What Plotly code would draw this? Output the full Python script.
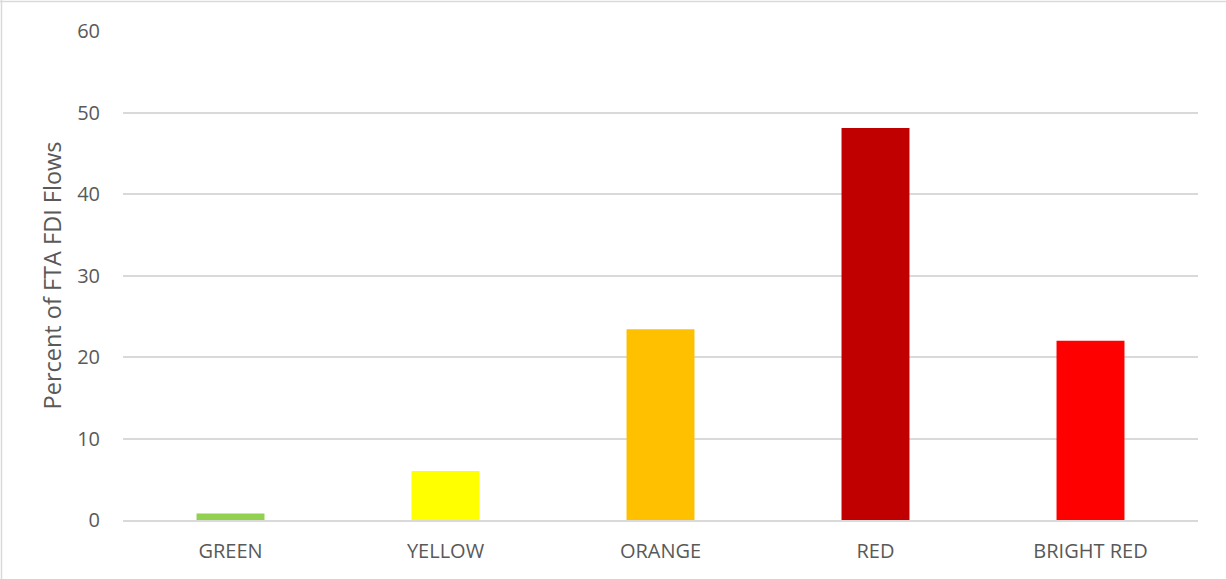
import plotly.graph_objects as go

categories = ["GREEN", "YELLOW", "ORANGE", "RED", "BRIGHT RED"]
percent_fdi = [0.8, 6.0, 23.4, 48.1, 22.0]
bar_colors = ["#92d050", "#ffff00", "#ffc000", "#c00000", "#ff0000"]
y_ticks = [0, 10, 20, 30, 40, 50, 60]

W, H = 1226, 579
L, R, T, B = 123, 28, 31, 59
pw, ph = W - L - R, H - T - B

fig = go.Figure(
    go.Bar(
        x=categories,
        y=percent_fdi,
        marker=dict(color=bar_colors, line=dict(width=0)),
        width=0.316,
    )
)

# chart frame (left and top edges)
fx = lambda px: (px - L) / pw
fy = lambda py: (H - B - py) / ph
fig.add_shape(type="line", xref="paper", yref="paper",
              x0=fx(1.5), x1=fx(1.5), y0=fy(0), y1=fy(H),
              line=dict(color="#d9d9d9", width=1.5))
fig.add_shape(type="line", xref="paper", yref="paper",
              x0=fx(0), x1=fx(W), y0=fy(1.5), y1=fy(1.5),
              line=dict(color="#d9d9d9", width=1.5))

fig.update_layout(
    width=W, height=H,
    margin=dict(l=L, r=R, t=T, b=B),
    paper_bgcolor="white", plot_bgcolor="white",
    font=dict(family="Open Sans, Liberation Sans, sans-serif", color="#595959", size=20),
    showlegend=False,
    bargap=0.684,
    xaxis=dict(showgrid=False, showline=True, linecolor="#d9d9d9", linewidth=1.5,
               ticks="", ticklabelstandoff=12,
               tickfont=dict(size=20, color="#595959")),
    yaxis=dict(range=[0, 60], tickvals=y_ticks, showgrid=True, gridcolor="#d9d9d9",
               gridwidth=1.5, zeroline=False, showline=False, ticks="",
               ticklabelstandoff=22,
               tickfont=dict(size=20, color="#595959"),
               title=dict(text="Percent of FTA FDI Flows", font=dict(size=23.5, color="#595959"),
                          standoff=8)),
)

fig.write_html("out.html")
